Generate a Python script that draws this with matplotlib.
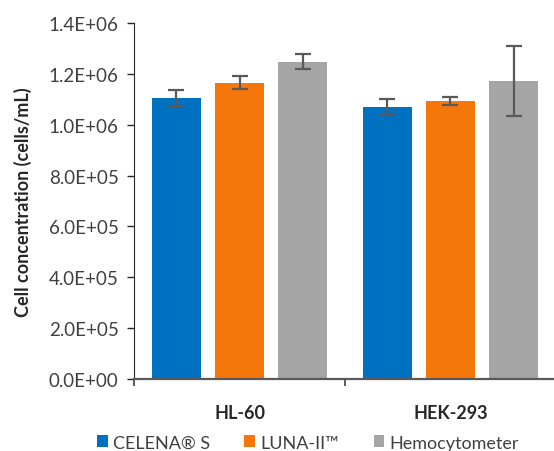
import matplotlib.pyplot as plt
from matplotlib.ticker import FuncFormatter
import numpy as np

plt.rcParams['font.family'] = ['Lato', 'DejaVu Sans']

# data
cell_lines = ['HL-60', 'HEK-293']
methods = ['CELENA® S', 'LUNA-II™', 'Hemocytometer']
means = {
    'CELENA® S': [1.106e6, 1.070e6],
    'LUNA-II™': [1.165e6, 1.093e6],
    'Hemocytometer': [1.248e6, 1.172e6],
}
errors = {
    'CELENA® S': [31000, 31000],
    'LUNA-II™': [25000, 15000],
    'Hemocytometer': [30000, 136000],
}
colors = ['#0070C0', '#F5770B', '#A5A5A5']
yticks = np.arange(0, 1.4e6 + 1, 2e5)

fig = plt.figure(figsize=(5.54, 4.52), dpi=100)
ax = fig.add_axes([0.2419, 0.1593, 0.7617, 0.7876])

x = np.arange(len(cell_lines))
width = 0.232
step = 0.300
for i, m in enumerate(methods):
    ax.bar(x + (i - 1) * step, means[m], width, color=colors[i], label=m,
           yerr=errors[m], error_kw=dict(ecolor='#595959', elinewidth=1.6,
                                         capsize=6, capthick=1.6), zorder=2)

ax.set_xlim(-0.5, 1.5)
ax.set_ylim(0, 1.4e6)
ax.set_yticks(yticks)
ax.yaxis.set_major_formatter(FuncFormatter(lambda v, p: '%.1E' % v))
ax.set_xticks(x)
ax.set_xticklabels(cell_lines, fontsize=13, fontweight='bold', color='#262626')
ax.set_xticks([-0.5, 0.5, 1.5], minor=True)
ax.tick_params(axis='x', which='major', length=0, pad=18)
ax.tick_params(axis='x', which='minor', length=5, width=1.2, color='#404040')
ax.tick_params(axis='y', length=5, width=1, color='#262626', labelsize=13.5,
               labelcolor='#404040', pad=6)

for s in ['top', 'right']:
    ax.spines[s].set_visible(False)
ax.spines['left'].set_color('#262626')
ax.spines['bottom'].set_color('#595959')
ax.spines['bottom'].set_linewidth(1.6)

ax.set_ylabel('Cell concentration (cells/mL)', fontsize=13, fontweight='bold',
              color='#262626', labelpad=12)

fig.legend(loc='lower center', bbox_to_anchor=(0.556, -0.035), ncol=3,
           frameon=False, fontsize=13, handlelength=0.6, handleheight=0.6,
           handletextpad=0.3, columnspacing=1.9, labelcolor='#404040')

fig.savefig('out.png', dpi=100)
